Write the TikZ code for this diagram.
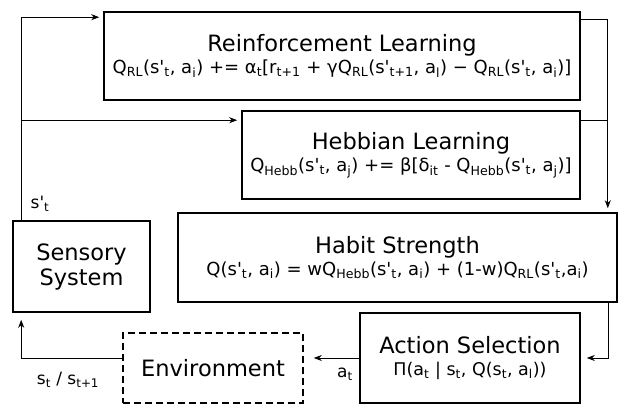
\documentclass[tikz,border=0pt]{standalone}
\usepackage{fontspec}
\setmainfont{DejaVu Sans}
\usetikzlibrary{shapes,arrows.meta,positioning,calc}
\newcommand{\low}[1]{\textsubscript{#1}}
\newcommand{\pr}{\textquotesingle}

\begin{document}
\begin{tikzpicture}[
        x=1pt, y=-1pt,
        block/.style={
            rectangle, draw=black, line width=1.6pt, fill=white,
            align=center, font=\fontsize{22.5}{25}\selectfont, inner sep=2pt
        },
        envbox/.style={
            block, dash pattern=on 7pt off 4pt
        },
        conn/.style={-{Stealth[length=8pt,width=6pt]}, line width=0.8pt, draw=black, shorten >=4pt},
        line/.style={line width=0.8pt, draw=black},
        lbl/.style={font=\fontsize{17}{20}\selectfont, inner sep=1pt}
    ]
    \useasboundingbox (0,0) rectangle (619,405);

    % Learning modules
    \node[block, minimum width=476pt, minimum height=88pt] (rl) at (342,56)
        {Reinforcement Learning\\[-3pt]
         {\fontsize{18}{20}\selectfont Q\low{RL}(s\pr\low{t}, a\low{i}) += α\low{t}[r\low{t+1} + γQ\low{RL}(s\pr\low{t+1}, a\low{l}) − Q\low{RL}(s\pr\low{t}, a\low{i})]}};
    \node[block, minimum width=338pt, minimum height=88pt] (hebb) at (411,155)
        {Hebbian Learning\\[-3pt]
         {\fontsize{18}{20}\selectfont Q\low{Hebb}(s\pr\low{t}, a\low{j}) += β[δ\low{it} - Q\low{Hebb}(s\pr\low{t}, a\low{j})]}};
    \node[block, minimum width=439pt, minimum height=89pt] (habit) at (397.5,257.5)
        {Habit Strength\\[-3pt]
         {\fontsize{18}{20}\selectfont Q(s\pr\low{t}, a\low{i}) = wQ\low{Hebb}(s\pr\low{t}, a\low{i}) + (1-w)Q\low{RL}(s\pr\low{t},a\low{i})}};

    % Agent / world
    \node[block, minimum width=137pt, minimum height=91pt] (sens) at (81.5,266.5) {Sensory\\System};
    \node[block, minimum width=220pt, minimum height=90pt] (act) at (470,358)
        {Action Selection\\[-3pt]
         {\fontsize{17.5}{20}\selectfont Π(a\low{t} | s\low{t}, Q(s\low{t}, a\low{l}))}};
    \node[envbox, minimum width=180pt, minimum height=70pt] (env) at (213,368) {Environment};

    % Helper points
    \coordinate (sx) at ([xshift=9pt]sens.north west);
    \coordinate (h1) at ([yshift=-10pt]hebb.north west);
    \coordinate (h2) at ([yshift=-10pt]hebb.north east);
    \coordinate (rx) at ([xshift=-10pt]habit.north east);

    % Sensory state up to learning
    \draw[conn] (sx) |- ([yshift=-6pt]rl.north west);
    \draw[conn] (sx |- h1) -- (h1);

    % Learning down to habit
    \draw[conn] ([yshift=-8pt]rl.north east) -| (rx);
    \draw[line] (h2) -- (h2 -| rx);

    % Habit -> action -> environment -> sensory
    \draw[conn, shorten >=6pt] ([xshift=-9pt]habit.south east) |- (act.east);
    \draw[conn, shorten >=10pt] (act.west) -- (env.east |- act.west);
    \draw[conn, shorten >=7pt] (env.west |- act.west) -| ([xshift=9pt]sens.south west);

    % Labels
    \node[lbl] (lsp) at (40,204) {s\pr\low{t}};
    \node[lbl] (lat) at (345,374) {a\low{t}};
    \node[lbl] (lss) at (68,380) {s\low{t} / s\low{t+1}};
\end{tikzpicture}
\end{document}
